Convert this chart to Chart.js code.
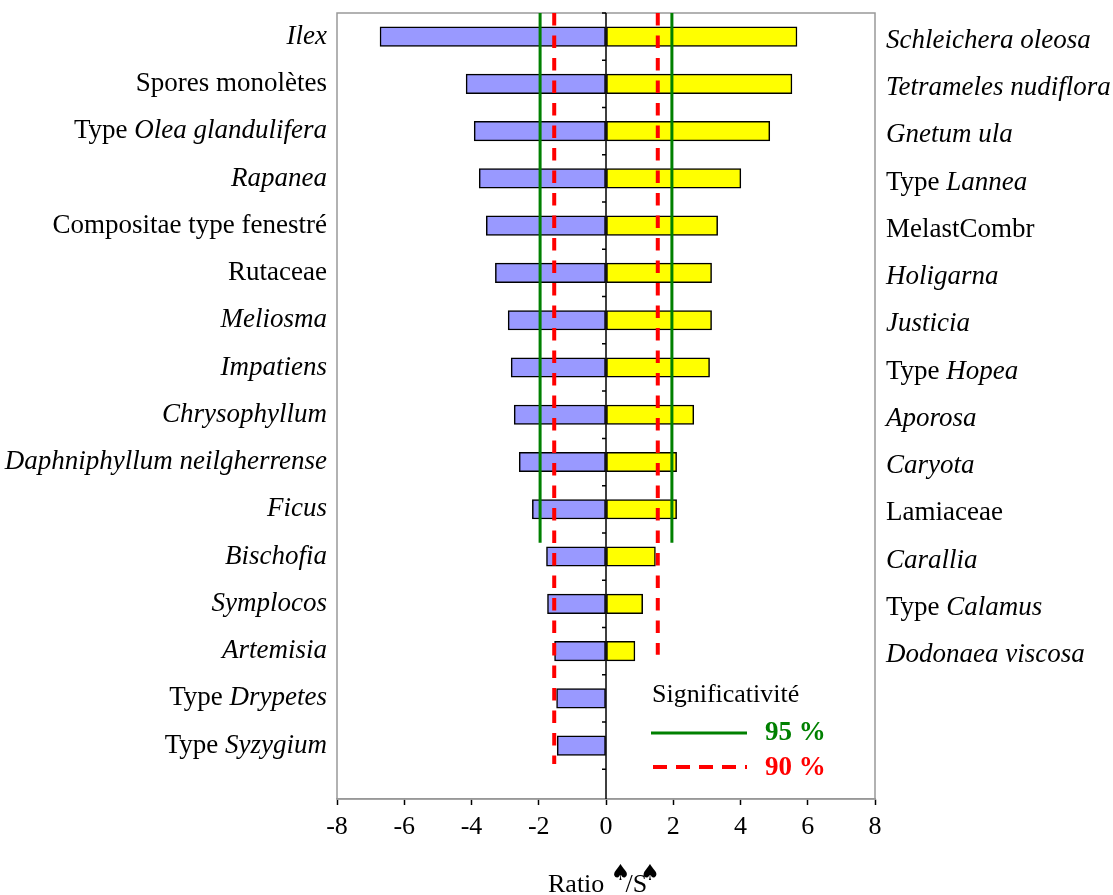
<!DOCTYPE html>
<html>
<head>
<meta charset="utf-8">
<script src="https://cdn.jsdelivr.net/npm/chart.js@4.4.1/dist/chart.umd.min.js"></script>
<style>
  body { margin: 0; background: #fff; }
  canvas { display: block; }
</style>
</head>
<body>
<canvas id="ratioChart" width="1113" height="895"></canvas>
<script>
// taxa on the left (negative ratio) and right (positive ratio); _text_ = italic
var leftLabels = ['_Ilex_', 'Spores monolètes', 'Type _Olea glandulifera_', '_Rapanea_',
  'Compositae type fenestré', 'Rutaceae', '_Meliosma_', '_Impatiens_', '_Chrysophyllum_',
  '_Daphniphyllum neilgherrense_', '_Ficus_', '_Bischofia_', '_Symplocos_', '_Artemisia_',
  'Type _Drypetes_', 'Type _Syzygium_'];
var leftValues = [-6.72, -4.16, -3.92, -3.77, -3.56, -3.29, -2.91, -2.82, -2.73,
  -2.58, -2.19, -1.77, -1.74, -1.53, -1.47, -1.45];

var rightLabels = ['_Schleichera oleosa_', '_Tetrameles nudiflora_', '_Gnetum ula_',
  'Type _Lannea_', 'MelastCombr', '_Holigarna_', '_Justicia_', 'Type _Hopea_', '_Aporosa_',
  '_Caryota_', 'Lamiaceae', '_Carallia_', 'Type _Calamus_', '_Dodonaea viscosa_'];
var rightValues = [5.68, 5.53, 4.87, 4.01, 3.32, 3.14, 3.14, 3.08, 2.61,
  2.10, 2.10, 1.47, 1.09, 0.86];

// significance thresholds and how far down each line goes (row index)
var sig95 = 1.96;
var sig90 = 1.54;
var sig95Rows = [-0.5, 10.71];
var sig90LeftRows = [-0.5, 15.39];
var sig90RightRows = [-0.5, 13.08];

var xTicks = [-8, -6, -4, -2, 0, 2, 4, 6, 8];

var serif = '"Liberation Serif", "Times New Roman", serif';

function toPoints(values) {
  return values.map(function(v, i) { return {x: v, y: i}; });
}

function vline(x, rows) {
  return rows.map(function(r) { return {x: x, y: r}; });
}

// draws "Type _Olea_" style text with italic parts, aligned left or right
function drawRich(ctx, str, x, y, align, size) {
  var parts = str.split('_');
  var widths = [];
  var total = 0;
  parts.forEach(function(p, i) {
    ctx.font = (i % 2 ? 'italic ' : '') + size + 'px ' + serif;
    var w = ctx.measureText(p).width;
    widths.push(w);
    total += w;
  });
  var cx = align === 'right' ? x - total : x;
  parts.forEach(function(p, i) {
    ctx.font = (i % 2 ? 'italic ' : '') + size + 'px ' + serif;
    ctx.fillText(p, cx, y);
    cx += widths[i];
  });
}

var decorations = {
  id: 'decorations',
  beforeDatasetsDraw: function(chart) {
    var ctx = chart.ctx, a = chart.chartArea;
    ctx.save();
    ctx.strokeStyle = '#999';
    ctx.lineWidth = 1.5;
    ctx.strokeRect(a.left, a.top, a.right - a.left, a.bottom - a.top);
    ctx.restore();
  },
  afterDatasetsDraw: function(chart) {
    var ctx = chart.ctx, a = chart.chartArea;
    var xs = chart.scales.x, ys = chart.scales.y;
    var x0 = xs.getPixelForValue(0);
    ctx.save();

    // zero axis with row ticks
    ctx.strokeStyle = '#000';
    ctx.lineWidth = 1.5;
    ctx.beginPath();
    ctx.moveTo(x0, a.top);
    ctx.lineTo(x0, a.bottom);
    for (var i = 0; i <= leftLabels.length; i++) {
      var ty = ys.getPixelForValue(i - 0.5);
      ctx.moveTo(x0 - 4, ty);
      ctx.lineTo(x0, ty);
    }
    ctx.stroke();

    // taxon labels
    ctx.fillStyle = '#000';
    ctx.textBaseline = 'middle';
    ctx.textAlign = 'left';
    leftLabels.forEach(function(l, i) {
      drawRich(ctx, l, a.left - 10, ys.getPixelForValue(i), 'right', 27);
    });
    rightLabels.forEach(function(l, i) {
      drawRich(ctx, l, a.right + 11, ys.getPixelForValue(i) + 4, 'left', 27);
    });

    // legend
    ctx.font = '26px ' + serif;
    ctx.fillText('Significativité', 652, 695);
    ctx.strokeStyle = '#008000';
    ctx.lineWidth = 3;
    ctx.beginPath();
    ctx.moveTo(651, 733);
    ctx.lineTo(747, 733);
    ctx.stroke();
    ctx.strokeStyle = '#ff0000';
    ctx.lineWidth = 4;
    ctx.setLineDash([14, 9]);
    ctx.beginPath();
    ctx.moveTo(653, 767);
    ctx.lineTo(747, 767);
    ctx.stroke();
    ctx.setLineDash([]);
    ctx.font = 'bold 27px ' + serif;
    ctx.fillStyle = '#008000';
    ctx.fillText('95 %', 765, 733);
    ctx.fillStyle = '#ff0000';
    ctx.fillText('90 %', 765, 768);

    // axis title: Ratio ♠/S♠
    ctx.fillStyle = '#000';
    ctx.textBaseline = 'alphabetic';
    var tx = 548, base = 892;
    ctx.font = '26px ' + serif;
    ctx.fillText('Ratio ', tx, base);
    tx += ctx.measureText('Ratio ').width;
    ctx.font = '22px "DejaVu Sans"';
    ctx.fillText('\u2660', tx, base - 12);
    tx += ctx.measureText('\u2660').width - 5;
    ctx.font = '26px ' + serif;
    ctx.fillText('/S', tx, base);
    tx += ctx.measureText('/S').width - 7;
    ctx.font = '22px "DejaVu Sans"';
    ctx.fillText('\u2660', tx, base - 12);

    ctx.restore();
  }
};

var lineStyle = {type: 'line', pointRadius: 0, fill: false, indexAxis: 'y', order: 0};

new Chart(document.getElementById('ratioChart'), {
  type: 'bar',
  plugins: [decorations],
  data: {
    datasets: [
      {
        data: toPoints(leftValues),
        backgroundColor: '#9999ff',
        borderColor: '#000',
        borderWidth: 1.5,
        borderSkipped: false,
        grouped: false,
        barThickness: 19.5,
        order: 1
      },
      {
        data: toPoints(rightValues),
        backgroundColor: '#ffff00',
        borderColor: '#000',
        borderWidth: 1.5,
        borderSkipped: false,
        grouped: false,
        barThickness: 19.5,
        order: 1
      },
      Object.assign({data: vline(-sig95, sig95Rows), borderColor: '#008000', borderWidth: 3}, lineStyle),
      Object.assign({data: vline(sig95, sig95Rows), borderColor: '#008000', borderWidth: 3}, lineStyle),
      Object.assign({data: vline(-sig90, sig90LeftRows), borderColor: '#ff0000', borderWidth: 4, borderDash: [12.5, 10]}, lineStyle),
      Object.assign({data: vline(sig90, sig90RightRows), borderColor: '#ff0000', borderWidth: 4, borderDash: [12.5, 10]}, lineStyle)
    ]
  },
  options: {
    responsive: false,
    animation: false,
    indexAxis: 'y',
    layout: {padding: {left: 337, right: 238, top: 13, bottom: 0}},
    plugins: {legend: {display: false}, tooltip: {enabled: false}},
    scales: {
      x: {
        type: 'linear',
        min: -8,
        max: 8,
        afterBuildTicks: function(s) {
          s.ticks = xTicks.map(function(v) { return {value: v}; });
        },
        ticks: {color: '#000', font: {family: serif, size: 26}, padding: 7},
        grid: {drawOnChartArea: false, color: '#000', tickLength: 6, tickWidth: 1.5},
        border: {color: '#999', width: 1.5},
        afterFit: function(s) { s.height = 96; }
      },
      y: {
        type: 'linear',
        reverse: true,
        offset: false,
        min: -0.5,
        max: 16.13,
        ticks: {stepSize: 1},
        display: false
      }
    }
  }
});
</script>
</body>
</html>
